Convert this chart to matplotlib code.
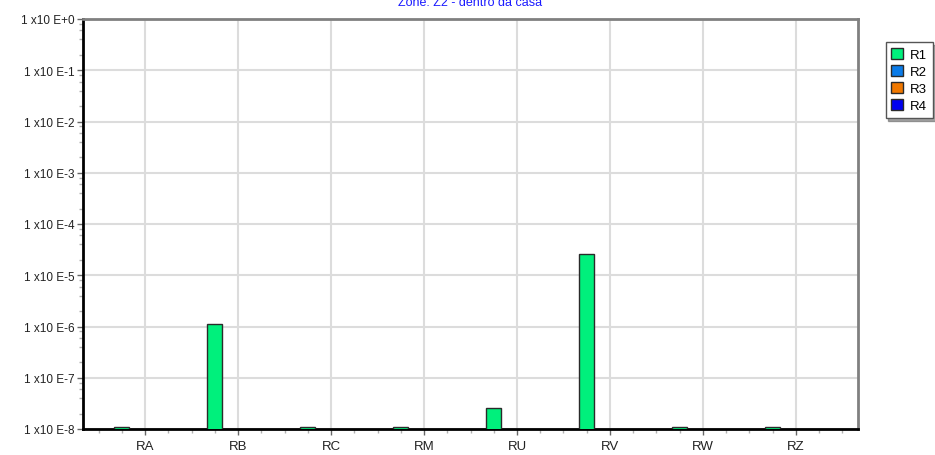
import numpy as np
import matplotlib
matplotlib.use("Agg")
import matplotlib.pyplot as plt
from matplotlib.ticker import LogLocator, FixedLocator, FuncFormatter, NullFormatter

plt.rcParams["font.family"] = ["Liberation Sans", "DejaVu Sans"]

categories = ["RA", "RB", "RC", "RM", "RU", "RV", "RW", "RZ"]
series = ["R1", "R2", "R3", "R4"]
r1 = [1.1e-8, 1.1e-6, 1.1e-8, 1.1e-8, 2.6e-8, 2.6e-5, 1.1e-8, 1.1e-8]
r2 = [0, 0, 0, 0, 0, 0, 0, 0]
r3 = [0, 0, 0, 0, 0, 0, 0, 0]
r4 = [0, 0, 0, 0, 0, 0, 0, 0]
colors = ["#00f07c", "#0a7be8", "#f07800", "#0000f0"]


def fmt_exp(v, pos):
    e = int(round(np.log10(v)))
    return "1 x10 E+0" if e == 0 else f"1 x10 E{e}"


fig = plt.figure(figsize=(9.35, 4.56), dpi=100)
ax = fig.add_axes([83 / 935, 1 - 430 / 456, 775 / 935, 410 / 456])
ax.set_yscale("log")
x = np.arange(len(categories))
w = 0.168
for i, (name, vals) in enumerate(zip(series, [r1, r2, r3, r4])):
    v = np.array(vals, dtype=float)
    v = np.where(v > 0, v, np.nan)
    ax.bar(x + (i - 1.5) * w, v, w, color=colors[i], edgecolor="#2a2a2a", lw=1.0,
           label=name, zorder=3)
ax.set_ylim(1e-8, 1)
ax.set_xlim(-0.667, 7.667)

ax.yaxis.set_major_locator(LogLocator(base=10, numticks=20))
ax.yaxis.set_major_formatter(FuncFormatter(fmt_exp))
ax.yaxis.set_minor_locator(LogLocator(base=10, subs=[2, 4, 6, 8], numticks=20))
ax.yaxis.set_minor_formatter(NullFormatter())
ax.set_xticks(x)
ax.set_xticklabels(categories)
ax.xaxis.set_minor_locator(FixedLocator(np.arange(-0.5, 7.76, 0.25)))
ax.tick_params(axis="y", labelsize=8.5, colors="#222222")
ax.tick_params(axis="x", labelsize=9.5, colors="#222222")
ax.tick_params(axis="y", which="major", length=4, width=1, color="#666666", pad=2)
ax.tick_params(axis="y", which="minor", length=3, width=1, color="#b0b0b0")
ax.tick_params(axis="x", which="major", length=4, width=1, color="#666666", pad=4)
ax.tick_params(axis="x", which="minor", length=3, width=1, color="#b0b0b0")

ax.grid(True, which="major", color="#dcdcdc", lw=1.5, zorder=0)
ax.set_axisbelow(True)
for s in ["left", "bottom"]:
    ax.spines[s].set_color("black")
    ax.spines[s].set_linewidth(2)
for s in ["top", "right"]:
    ax.spines[s].set_color("#808080")
    ax.spines[s].set_linewidth(2)

fig.text(0.503, 0.993, "Zone: Z2 - dentro da casa", color="#1a1aff", fontsize=9,
         ha="center", va="center")

leg = ax.legend(loc="upper left", bbox_to_anchor=(1.027, 0.96), fontsize=9.5,
                handlelength=0.9, handleheight=0.9, handletextpad=0.5,
                borderpad=0.45, labelspacing=0.3, fancybox=False, shadow=True,
                edgecolor="#555555", framealpha=1)
leg.get_frame().set_linewidth(1)

fig.savefig("out.png", dpi=100)
